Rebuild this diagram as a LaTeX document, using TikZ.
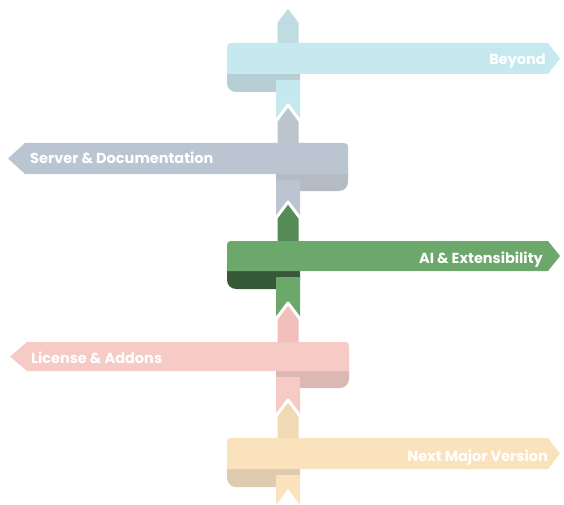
\documentclass[tikz,border=0pt]{standalone}
\usepackage{fontspec}
\setmainfont{Poppins}
\definecolor{rbA}{HTML}{C6E9F0}\definecolor{stA}{HTML}{BEDCE2}\definecolor{ufA}{HTML}{B6CED4}
\definecolor{rbB}{HTML}{BAC5D1}\definecolor{stB}{HTML}{BCC5CD}\definecolor{ufB}{HTML}{B5BBC3}
\definecolor{rbC}{HTML}{6CA76C}\definecolor{stC}{HTML}{558B56}\definecolor{ufC}{HTML}{365A37}
\definecolor{rbD}{HTML}{F7CBC5}\definecolor{stD}{HTML}{F2C0BA}\definecolor{ufD}{HTML}{DCB8B5}
\definecolor{rbE}{HTML}{FAE3BC}\definecolor{stE}{HTML}{F0D9B3}\definecolor{ufE}{HTML}{DECBB0}
\begin{document}
\begin{tikzpicture}[x=1pt,y=-1pt,line join=round,
  lbl/.style={text=white,font=\fontsize{14.5}{16}\selectfont\bfseries,inner sep=0pt},
  upstem/.style={draw=white,line width=3pt},
  fold/.style={rounded corners=9pt}]
\useasboundingbox (0,0) rectangle (564,505);
% ---------- band 1 : Beyond ----------
\fill[ufA,fold] (227,59) rectangle (300,92);
\filldraw[stA,upstem] (288,6) -- (300,22) -- (300,50) -- (276,50) -- (276,22) -- cycle;
\fill[rbA] (548,43) -- (235,43) .. controls (227,43) .. (227,51) -- (227,74) -- (548,74) -- (560,58.5) -- cycle;
\fill[rbA] (276,80) -- (300,80) -- (300,121) -- (288,105) -- (276,121) -- cycle;
\node[lbl,anchor=base east] (t1) at (546,65) {Beyond};
% ---------- band 2 : Server ----------
\fill[ufB,fold] (276,158) rectangle (348,191);
\filldraw[stB,upstem] (288,105) -- (300,121) -- (300,150) -- (276,150) -- (276,121) -- cycle;
\fill[rbB] (25,143) -- (340,143) .. controls (348,143) .. (348,151) -- (348,174) -- (25,174) -- (8,158.5) -- cycle;
\fill[rbB] (276,180) -- (300,180) -- (300,218) -- (288,202) -- (276,218) -- cycle;
\node[lbl,anchor=base west] (t2) at (30,164) {Server \& Documentation};
% ---------- band 3 : AI ----------
\fill[ufC,fold] (227,256) rectangle (300,289);
\filldraw[stC,upstem] (288,202) -- (300,218) -- (300,250) -- (276,250) -- (276,218) -- cycle;
\fill[rbC] (548,241) -- (235,241) .. controls (227,241) .. (227,249) -- (227,271) -- (548,271) -- (560,256) -- cycle;
\fill[rbC] (276,277) -- (300,277) -- (300,319) -- (288,303) -- (276,319) -- cycle;
\node[lbl,anchor=base east] (t3) at (543,263) {AI \& Extensibility};
% ---------- band 4 : License ----------
\fill[ufD,fold] (276,356) rectangle (349,388);
\filldraw[stD,upstem] (288,303) -- (300,319) -- (300,350) -- (276,350) -- (276,319) -- cycle;
\fill[rbD] (27,342) -- (341,342) .. controls (349,342) .. (349,350) -- (349,371) -- (27,371) -- (10,356.5) -- cycle;
\fill[rbD] (276,377) -- (300,377) -- (300,416) -- (288,400) -- (276,416) -- cycle;
\node[lbl,anchor=base west] (t4) at (31,363) {License \& Addons};
% ---------- band 5 : Next ----------
\fill[ufE,fold] (227,454) rectangle (300,487);
\filldraw[stE,upstem] (288,400) -- (300,416) -- (300,447) -- (276,447) -- (276,416) -- cycle;
\fill[rbE] (548,438) -- (235,438) .. controls (227,438) .. (227,446) -- (227,469) -- (548,469) -- (560,453.5) -- cycle;
\fill[rbE] (276,475) -- (300,475) -- (300,505) -- (288,489) -- (276,505) -- cycle;
\node[lbl,anchor=base east] (t5) at (548,461) {Next Major Version};
\end{tikzpicture}
\end{document}
